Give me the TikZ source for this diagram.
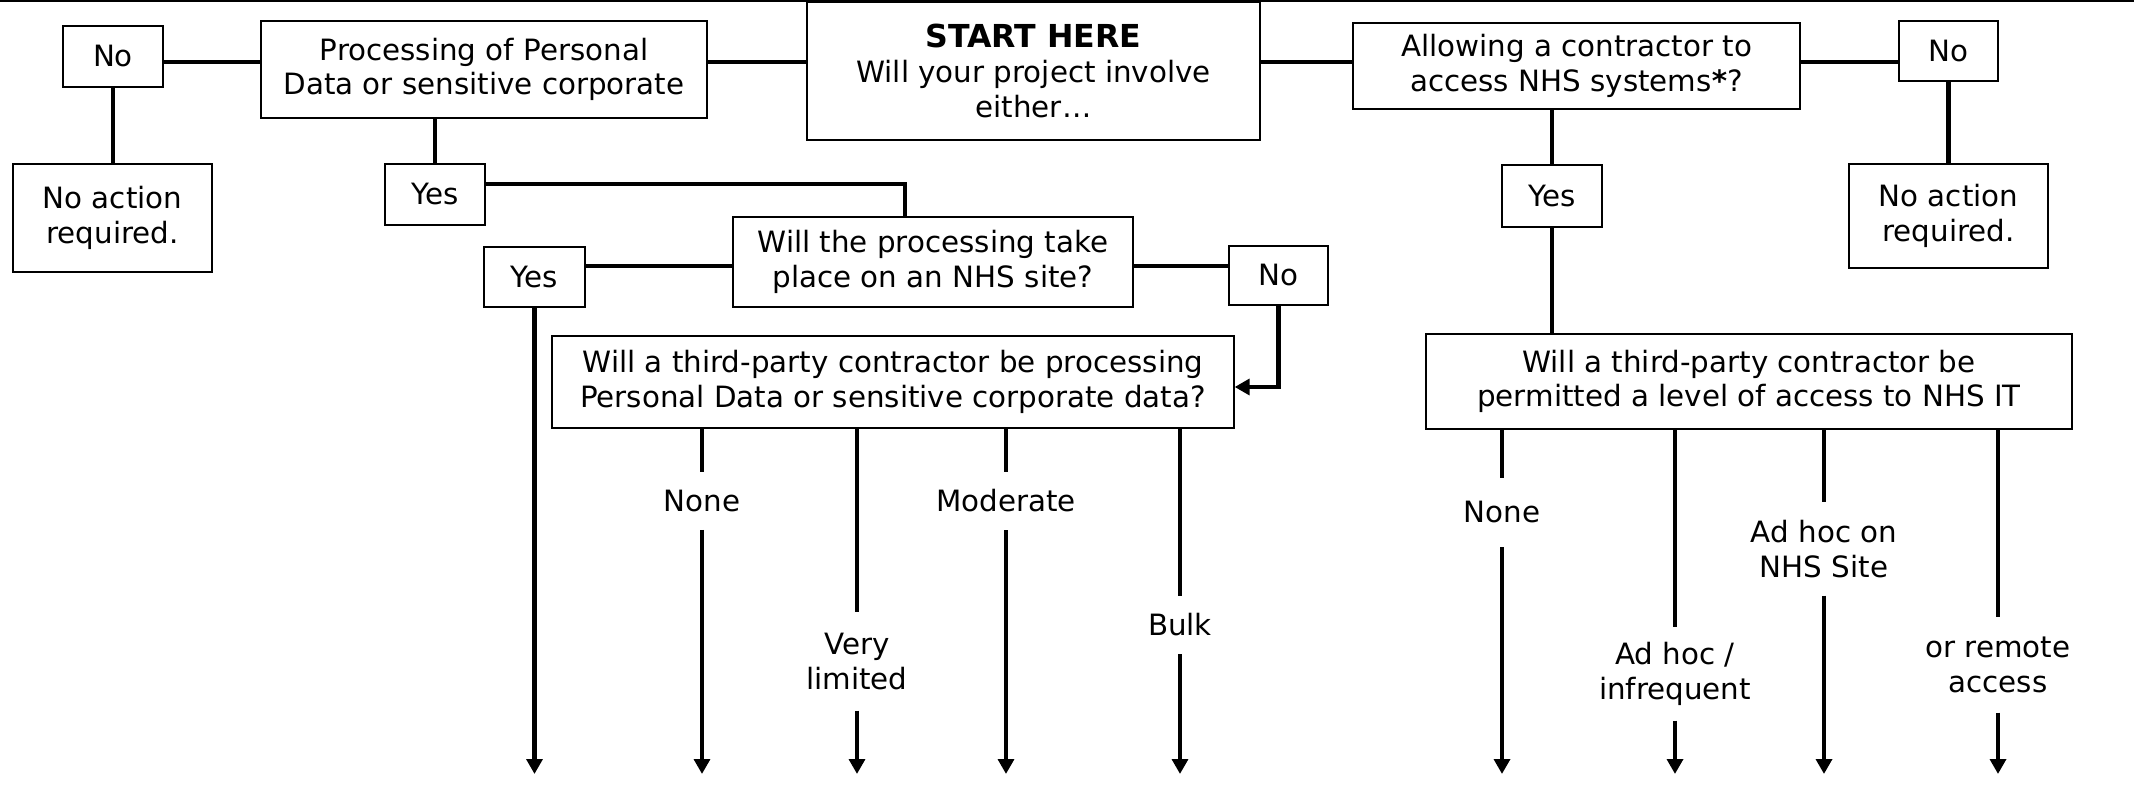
\documentclass[tikz,border=0pt]{standalone}
\usepackage{fontspec}
\setmainfont{DejaVu Sans}
\usetikzlibrary{arrows.meta,calc}

\begin{document}
\begin{tikzpicture}[
  x=0.02cm, y=-0.02cm,
  every node/.style={font=\fontsize{16.7}{19.8}\selectfont},
  box/.style={draw, line width=0.8pt, align=center, inner sep=2pt},
  link/.style={line width=2.3pt},
  arr/.style={line width=2.3pt, -{Triangle[length=8.5pt,width=9pt]}},
  lbl/.style={align=center, inner xsep=2pt, inner ysep=10pt},
]
\useasboundingbox (0,0) rectangle (2134,787);
\draw[line width=1.4pt] (0,1.25) -- (2134,1.25);

% ---------------- top row ----------------
\node[box, minimum width=9.06cm, minimum height=2.76cm] (start) at (1033.5,71) {{\fontsize{18}{21}\selectfont\bfseries START HERE}\\Will your project involve\\either…};
\node[box, minimum width=8.92cm, minimum height=1.94cm] (proc) at (484,69.5) {Processing of Personal\\Data or sensitive corporate};
\node[box, minimum width=8.94cm, minimum height=1.72cm] (allow) at (1576.5,66) {Allowing a contractor to\\access NHS systems\textbf{*}?};
\node[box, minimum width=2cm, minimum height=1.22cm] (noL) at (113,56.5) {No};
\node[box, minimum width=1.98cm, minimum height=1.2cm] (noR) at (1948.5,51) {No};

% ---------------- second row ----------------
\node[box, minimum width=3.98cm, minimum height=2.16cm] (naL) at (112.5,218) {No action\\required.};
\node[box, minimum width=3.98cm, minimum height=2.08cm] (naR) at (1948.5,216) {No action\\required.};
\node[box, minimum width=2cm, minimum height=1.22cm] (yes1) at (435,194.5) {Yes};
\node[box, minimum width=2cm, minimum height=1.24cm] (yesR) at (1552,196) {Yes};

% ---------------- NHS site question ----------------
\node[box, minimum width=8cm, minimum height=1.8cm] (nhs) at (933,262) {Will the processing take\\place on an NHS site?};
\node[box, minimum width=2.02cm, minimum height=1.2cm] (yes2) at (534.5,277) {Yes};
\node[box, minimum width=1.98cm, minimum height=1.18cm] (noM) at (1278.5,275.5) {No};

% ---------------- third-party questions ----------------
\node[box, minimum width=13.64cm, minimum height=1.84cm] (tpL) at (893,382) {Will a third-party contractor be processing\\Personal Data or sensitive corporate data?};
\node[box, minimum width=12.92cm, minimum height=1.9cm] (tpR) at (1749,381.5) {Will a third-party contractor be\\permitted a level of access to NHS IT};

% branch labels
\node[lbl] (noneL) at (702,501) {None};
\node[lbl, inner ysep=11.7pt] (vlim) at (857,661.5) {Very\\limited};
\node[lbl] (moder) at (1006,501) {Moderate};
\node[lbl] (bulk) at (1180,625) {Bulk};
\node[lbl, inner ysep=13.5pt] (noneR) at (1502,512.5) {None};
\node[lbl, inner ysep=8.3pt] (adinf) at (1675,674) {Ad hoc /\\infrequent};
\node[lbl] (adsite) at (1824,549) {Ad hoc on\\NHS Site};
\node[lbl, inner ysep=11pt] (remote) at (1998,665) {or remote\\access};

% ---------------- connectors ----------------
\coordinate (row) at (0,62);
\coordinate (mid) at (0,266);
\coordinate (bot) at (0,774);

\foreach \a/\b in {noL/proc, proc/start, start/allow, allow/noR}
  \draw[link] (\a.east |- row) -- (\b.west |- row);

\draw[link] (noL.south) -- (noL.south |- naL.north);
\draw[link] (noR.south) -- (noR.south |- naR.north);
\draw[link] (yes1.north |- proc.south) -- (yes1.north);
\draw[link] (yesR.north |- allow.south) -- (yesR.north);
\draw[link] (yesR.south) -- (yesR.south |- tpR.north);
\draw[link] ([yshift=0.21cm]yes1.east) -| ([xshift=-0.56cm]nhs.north);
\draw[link] (yes2.east |- mid) -- (nhs.west |- mid);
\draw[link] (nhs.east |- mid) -- (noM.west |- mid);
\draw[arr] (noM.south) |- ([yshift=-0.1cm]tpL.east);
\draw[arr] (yes2.south) -- (yes2.south |- bot);

\foreach \l in {noneL,vlim,moder,bulk}{
  \draw[link] (tpL.south -| \l) -- (\l);
  \draw[arr] (\l) -- (\l |- bot);
}
\foreach \l in {noneR,adinf,adsite,remote}{
  \draw[link] (tpR.south -| \l) -- (\l);
  \draw[arr] (\l) -- (\l |- bot);
}
\end{tikzpicture}
\end{document}
